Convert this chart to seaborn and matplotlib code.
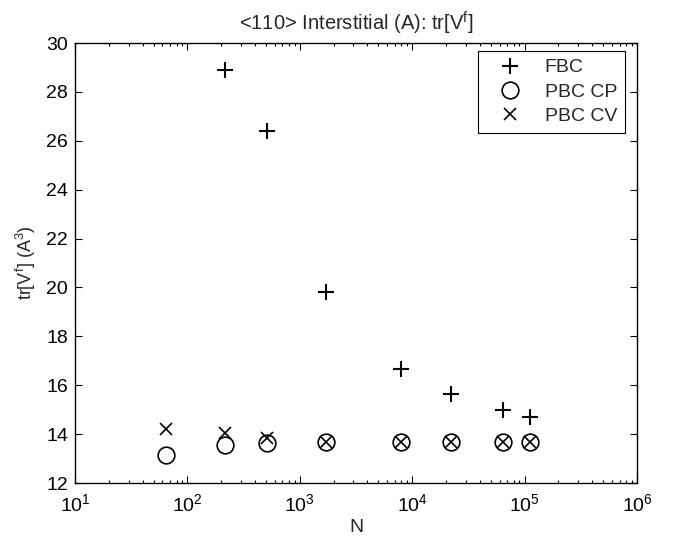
import numpy as np
import pandas as pd
import seaborn as sns
import matplotlib.pyplot as plt
from matplotlib.ticker import LogLocator, MultipleLocator, NullFormatter

# data
n_fbc = [216, 512, 1728, 8000, 21952, 64000, 110592]
tr_fbc = [28.9, 26.4, 19.8, 16.65, 15.63, 14.97, 14.72]

n_pbc = [64, 216, 512, 1728, 8000, 21952, 64000, 110592]
tr_cp = [13.15, 13.55, 13.64, 13.66, 13.66, 13.66, 13.66, 13.66]
tr_cv = [14.2, 14.03, 13.84, 13.66, 13.66, 13.66, 13.66, 13.66]

series = [
    ("FBC", n_fbc, tr_fbc, "+", 12, 1.5),
    ("PBC CP", n_pbc, tr_cp, "o", 12, 1.2),
    ("PBC CV", n_pbc, tr_cv, "x", 8.5, 1.2),
]

sns.set_style("ticks")
plt.rcParams["font.family"] = ["Liberation Sans", "DejaVu Sans"]
plt.rcParams["mathtext.default"] = "regular"
plt.rcParams["font.size"] = 14

fig = plt.figure(figsize=(6.76, 5.41), dpi=100)
ax = fig.add_axes([75 / 676, 1 - 483 / 541, (637 - 75) / 676, (483 - 43) / 541])

for name, n, tr, mk, ms, mew in series:
    df = pd.DataFrame({"N": n, "tr": tr})
    sns.lineplot(data=df, x="N", y="tr", ax=ax, marker=mk, markersize=ms,
                 markeredgewidth=mew, markerfacecolor="none",
                 markeredgecolor="black", color="black", linestyle="",
                 label=name)

ax.set_xscale("log")
ax.set_xlim(10, 1e6)
ax.set_ylim(12, 30)
ax.xaxis.set_major_locator(LogLocator(base=10, numticks=10))
ax.xaxis.set_minor_locator(LogLocator(base=10, subs=np.arange(2, 10), numticks=20))
ax.xaxis.set_minor_formatter(NullFormatter())
ax.yaxis.set_major_locator(MultipleLocator(2))

ax.tick_params(which="both", direction="in", top=True, right=True,
               colors="black", labelsize=14, width=0.8)
ax.tick_params(which="major", length=5, pad=5)
ax.tick_params(which="minor", length=2.5)
ax.tick_params(axis="x", which="major", pad=7)
for sp in ax.spines.values():
    sp.set_color("black")
    sp.set_linewidth(1.0)

ax.set_xlabel("N", fontsize=14, labelpad=3)
ax.set_ylabel("tr[V$^f$] (A$^3$)", fontsize=13, labelpad=6)
ax.set_title("<110> Interstitial (A): tr[V$^f$]", fontsize=14.5, pad=9)

leg = ax.legend(loc="upper right", bbox_to_anchor=(625 / 676, 1 - 51 / 541),
                bbox_transform=fig.transFigure, borderaxespad=0,
                fancybox=False, framealpha=1, edgecolor="black",
                fontsize=14, handlelength=2.5, handletextpad=0.55,
                borderpad=0.4, labelspacing=0.35)
leg.get_frame().set_linewidth(0.8)

fig.savefig("out.png", dpi=100)
